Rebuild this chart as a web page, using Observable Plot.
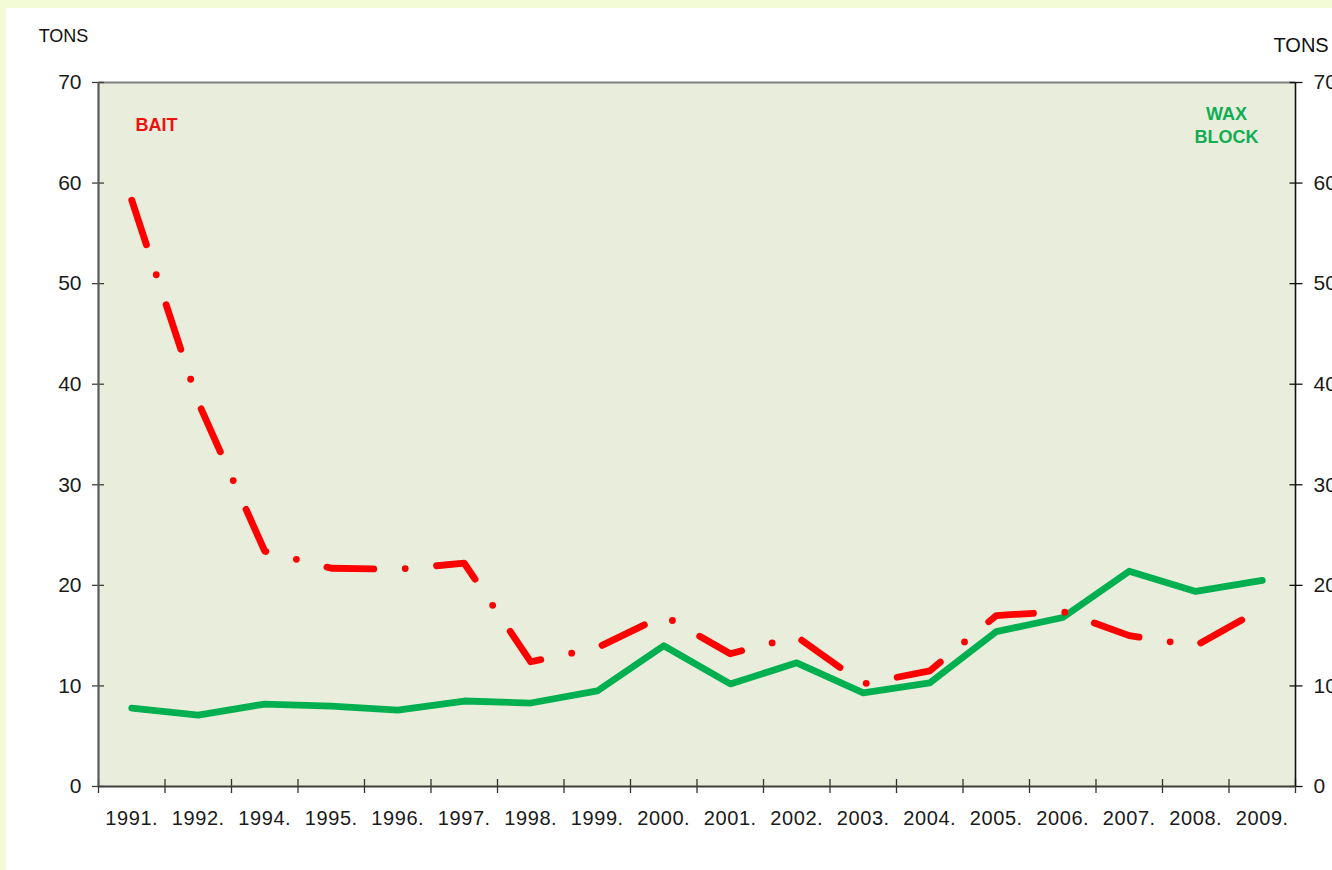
<!DOCTYPE html>
<html>
<head>
<meta charset="utf-8">
<script src="https://cdn.jsdelivr.net/npm/d3@7"></script>
<script src="https://cdn.jsdelivr.net/npm/@observablehq/plot@0.6"></script>
<style>
  html, body { margin: 0; padding: 0; width: 1332px; height: 870px; overflow: hidden; background: #f2fad6; }
  #sheet { position: absolute; left: 6px; top: 8px; width: 1326px; height: 862px; background: #ffffff; }
  #chart { position: absolute; left: 0; top: 0; }
  #chart svg { overflow: visible; }
  #chart [aria-label="x-axis tick label"] text { letter-spacing: 0.6px; }
</style>
</head>
<body>
<div id="sheet"></div>
<div id="chart"></div>
<script>
const years = ["1991","1992","1994","1995","1996","1997","1998","1999","2000","2001","2002","2003","2004","2005","2006","2007","2008","2009"];
const bait  = [58.3, 38.2, 23.4, 21.7, 21.6, 22.2, 12.4, 13.8, 17.0, 13.2, 14.9, 10.2, 11.5, 17.0, 17.4, 15.0, 14.0, 17.7];
const wax   = [7.8, 7.1, 8.2, 8.0, 7.6, 8.5, 8.3, 9.5, 14.0, 10.2, 12.3, 9.3, 10.3, 15.4, 16.8, 21.4, 19.4, 20.5];
const yTicks = [0, 10, 20, 30, 40, 50, 60, 70];
const unitLabel = "TONS";
const baitLabel = "BAIT";
const waxLabel = "WAX\nBLOCK";

const data = years.map((y, i) => ({i, year: y, bait: bait[i], wax: wax[i]}));
const font = "'Liberation Sans', Arial, sans-serif";

const chart = Plot.plot({
  width: 1332,
  height: 870,
  marginLeft: 98,
  marginRight: 37,
  marginTop: 82,
  marginBottom: 84,
  style: {background: "transparent", fontFamily: font, color: "#1a1a1a"},
  x: {domain: [0, years.length]},
  y: {domain: [0, 70]},
  marks: [
    Plot.frame({fill: "#e9eddc", stroke: "none"}),
    Plot.ruleY([70], {stroke: "#7f7f7f", strokeWidth: 2}),
    // left axis
    Plot.axisY({anchor: "left", ticks: yTicks, tickSize: 0, tickPadding: 17, fontSize: 21, fill: "#1a1a1a"}),
    Plot.axisY({anchor: "left", ticks: yTicks, text: null, tickSize: 12, dx: 6, stroke: "#404040", strokeWidth: 1.3}),
    // right axis
    Plot.axisY({anchor: "right", ticks: yTicks, tickSize: 0, tickPadding: 18, fontSize: 21, fill: "#1a1a1a"}),
    Plot.axisY({anchor: "right", ticks: yTicks, text: null, tickSize: 13, dx: -6.5, stroke: "#111", strokeWidth: 1.3}),
    // bottom axis
    Plot.axisX({ticks: d3.range(years.length + 1), text: null, tickSize: 14, dy: -7, stroke: "#333", strokeWidth: 1.3}),
    Plot.axisX({ticks: years.map((_, i) => i + 0.5), tickFormat: v => years[Math.floor(v)] + ".", tickSize: 0, tickPadding: 24, fontSize: 20, fill: "#1a1a1a"}),
    // series
    Plot.line(data, {x: d => d.i + 0.5, y: "wax", stroke: "#00b050", strokeWidth: 6.8, strokeLinejoin: "round", strokeLinecap: "round"}),
    Plot.line(data, {x: d => d.i + 0.5, y: "bait", stroke: "#ff0000", strokeWidth: 6.8, strokeDasharray: "47,31.5,0,31.5", strokeLinecap: "round", strokeLinejoin: "round"}),
    // axis lines
    Plot.ruleX([0], {stroke: "#595959", strokeWidth: 2.2}),
    Plot.ruleX([years.length], {stroke: "#111", strokeWidth: 1.6}),
    Plot.ruleY([0], {stroke: "#404040", strokeWidth: 2.2}),
    // labels
    Plot.text([unitLabel], {frameAnchor: "top-left", dx: -35, dy: -46.5, text: d => d, textAnchor: "middle", lineAnchor: "middle", fontSize: 18, fill: "#111"}),
    Plot.text([unitLabel], {frameAnchor: "top-right", dx: -22, dy: -37, text: d => d, textAnchor: "start", lineAnchor: "middle", fontSize: 20, fill: "#111"}),
    Plot.text([baitLabel], {frameAnchor: "top-left", dx: 58, dy: 42.5, text: d => d, textAnchor: "middle", lineAnchor: "middle", fontSize: 18, fontWeight: "bold", fill: "#ee1111"}),
    Plot.text([waxLabel], {frameAnchor: "top-right", dx: -69, dy: 41.75, text: d => d, textAnchor: "middle", lineAnchor: "middle", lineHeight: 1.25, fontSize: 18, fontWeight: "bold", fill: "#10ad55"})
  ]
});
document.getElementById("chart").appendChild(chart);
</script>
</body>
</html>
